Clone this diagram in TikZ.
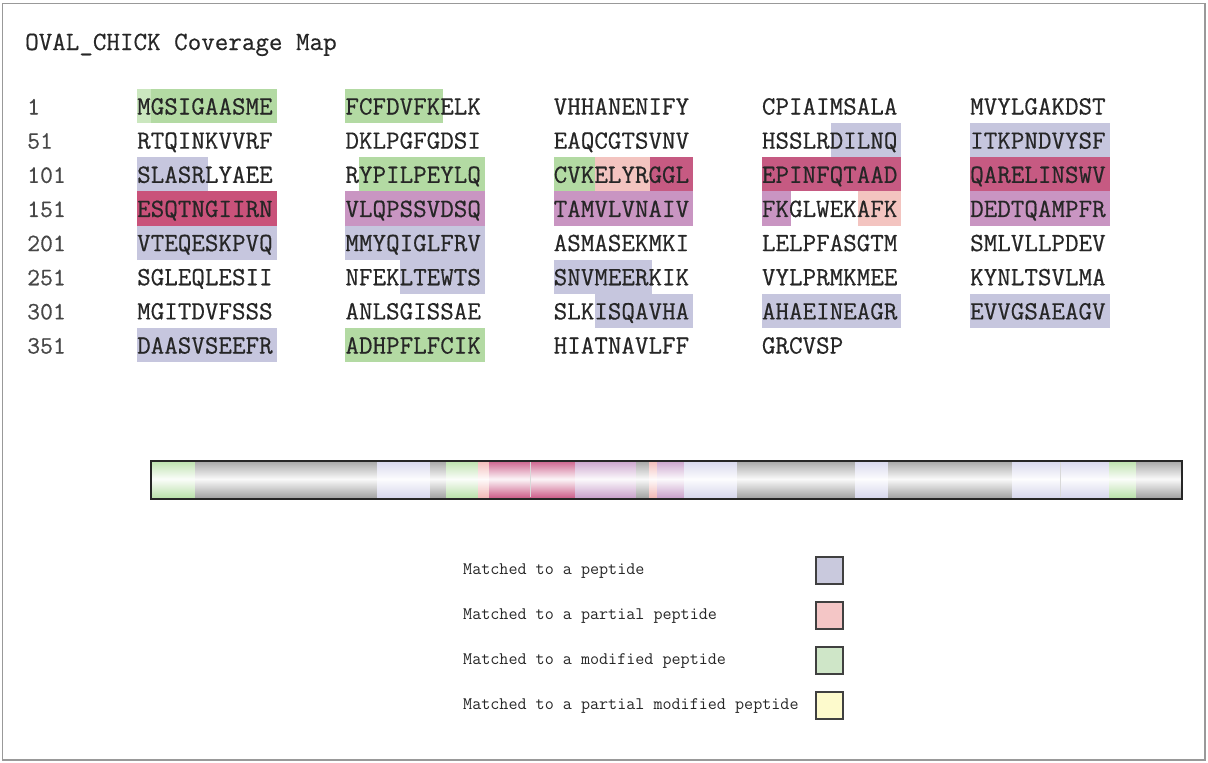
\documentclass[tikz,border=0pt]{standalone}
\usepackage{fontspec}
\newfontfamily\cour[FakeBold=0.5]{Latin Modern Mono}
\newfontfamily\courl{Latin Modern Mono}
\definecolor{lav}{HTML}{C6C6DE}
\definecolor{pinkp}{HTML}{F3C4C0}
\definecolor{grn}{HTML}{B3DAA3}
\definecolor{lgrn}{HTML}{CBE7BF}
\definecolor{mag}{HTML}{C65A82}
\definecolor{crim}{HTML}{C9527A}
\definecolor{mauve}{HTML}{C995C2}
\definecolor{txt}{HTML}{262626}
\definecolor{lglav}{HTML}{C9C9DD}
\definecolor{lgpink}{HTML}{F4C6C6}
\definecolor{lggrn}{HTML}{CFE6C8}
\definecolor{lgyel}{HTML}{FDFACC}
\definecolor{bgray}{HTML}{A2A2A2}
\definecolor{blav}{HTML}{D6D6EC}
\definecolor{bgrn}{HTML}{B9E0A9}
\definecolor{bpink}{HTML}{F2B8B6}
\definecolor{bmag}{HTML}{CC5C88}
\definecolor{bmauve}{HTML}{C9A0CB}
\newcommand\hl[5]{\fill[#1] ({137+208.25*(#3-1)+(#4-1)*13.8},{89+34.15*#2}) rectangle ({137+208.25*(#3-1)+#5*13.8+1.5},{123.15+34.15*#2});}
\newcommand\seg[3]{\shade[top color=#1,bottom color=#1,middle color=white!94!#1] (#2,460) rectangle (#3,498);}
\tikzset{
  seqtxt/.style={anchor=base west,inner sep=0pt,font=\cour\fontsize{26.3}{26.3}\selectfont,text=txt},
  numtxt/.style={anchor=base west,inner sep=0pt,font=\cour\fontsize{25}{25}\selectfont,text=txt!85},
  legtxt/.style={anchor=base west,inner sep=0pt,font=\courl\fontsize{17.6}{17.6}\selectfont,text=txt},
  legbox/.style={draw=black!75,line width=1.1pt,minimum width=27pt,minimum height=27pt,inner sep=0pt}
}
\begin{document}
\begin{tikzpicture}[x=1pt,y=-1pt]
\useasboundingbox (0,0) rectangle (1208,763);
\draw[black!40,line width=1.5pt] (2.5,3.5) rectangle (1205,760);
\node[seqtxt] (title) at (25,50) {OVAL\_CHICK Coverage Map};
% highlights: row, column, from, to
\hl{lgrn}{0}{1}{1}{1}
\hl{grn}{0}{1}{2}{10}
\hl{grn}{0}{2}{1}{7}
\hl{lav}{1}{4}{6}{10}
\hl{lav}{1}{5}{1}{10}
\hl{lav}{2}{1}{1}{5}
\hl{grn}{2}{2}{2}{10}
\hl{grn}{2}{3}{1}{3}
\hl{pinkp}{2}{3}{4}{7}
\hl{mag}{2}{3}{8}{10}
\hl{mag}{2}{4}{1}{10}
\hl{mag}{2}{5}{1}{10}
\hl{crim}{3}{1}{1}{10}
\hl{mauve}{3}{2}{1}{10}
\hl{mauve}{3}{3}{1}{10}
\hl{mauve}{3}{4}{1}{2}
\hl{pinkp}{3}{4}{8}{10}
\hl{mauve}{3}{5}{1}{10}
\hl{lav}{4}{1}{1}{10}
\hl{lav}{4}{2}{1}{10}
\hl{lav}{5}{2}{5}{10}
\hl{lav}{5}{3}{1}{7}
\hl{lav}{6}{3}{4}{10}
\hl{lav}{6}{4}{1}{10}
\hl{lav}{6}{5}{1}{10}
\hl{lav}{7}{1}{1}{10}
\hl{grn}{7}{2}{1}{10}
% sequence text
\foreach \r/\n/\a/\b/\c/\d/\e in {
  0/1/MGSIGAASME/FCFDVFKELK/VHHANENIFY/CPIAIMSALA/MVYLGAKDST,
  1/51/RTQINKVVRF/DKLPGFGDSI/EAQCGTSVNV/HSSLRDILNQ/ITKPNDVYSF,
  2/101/SLASRLYAEE/RYPILPEYLQ/CVKELYRGGL/EPINFQTAAD/QARELINSWV,
  3/151/ESQTNGIIRN/VLQPSSVDSQ/TAMVLVNAIV/FKGLWEKAFK/DEDTQAMPFR,
  4/201/VTEQESKPVQ/MMYQIGLFRV/ASMASEKMKI/LELPFASGTM/SMLVLLPDEV,
  5/251/SGLEQLESII/NFEKLTEWTS/SNVMEERKIK/VYLPRMKMEE/KYNLTSVLMA,
  6/301/MGITDVFSSS/ANLSGISSAE/SLKISQAVHA/AHAEINEAGR/EVVGSAEAGV}{
  \node[numtxt] (n\r) at (27,{114.5+34.15*\r}) {\n};
  \node[seqtxt] (s\r-1) at (137,{114.5+34.15*\r}) {\a};
  \node[seqtxt] (s\r-2) at (345.25,{114.5+34.15*\r}) {\b};
  \node[seqtxt] (s\r-3) at (553.5,{114.5+34.15*\r}) {\c};
  \node[seqtxt] (s\r-4) at (761.75,{114.5+34.15*\r}) {\d};
  \node[seqtxt] (s\r-5) at (970,{114.5+34.15*\r}) {\e};
}
\node[numtxt] (n7) at (27,{114.5+34.15*7}) {351};
\node[seqtxt] (s7-1) at (137,{114.5+34.15*7}) {DAASVSEEFR};
\node[seqtxt] (s7-2) at (345.25,{114.5+34.15*7}) {ADHPFLFCIK};
\node[seqtxt] (s7-3) at (553.5,{114.5+34.15*7}) {HIATNAVLFF};
\node[seqtxt] (s7-4) at (761.75,{114.5+34.15*7}) {GRCVSP};
% coverage bar
\seg{bgrn}{150}{195}
\seg{bgray}{195}{377}
\seg{blav}{377}{430}
\seg{bgray}{430}{446}
\seg{bgrn}{446}{478}
\seg{bpink}{478}{489}
\seg{bmag}{489}{530}
\seg{bmag}{530}{575}
\seg{bmauve}{575}{636}
\seg{bgray}{636}{649}
\seg{bpink}{649}{657}
\seg{bmauve}{657}{684}
\seg{blav}{684}{737}
\seg{bgray}{737}{855}
\seg{blav}{855}{888}
\seg{bgray}{888}{1012}
\seg{blav}{1012}{1060}
\seg{blav}{1060}{1109}
\seg{bgrn}{1109}{1136}
\seg{bgray}{1136}{1181}
\foreach \x in {530,1060}{\draw[white!85!black,line width=0.8pt] (\x,461) -- (\x,497);}
\node[draw=black!85,line width=2pt,minimum width=1031pt,minimum height=38pt,inner sep=0pt,anchor=north west] (bar) at (150,460) {};
% legend
\node[legtxt] (l1) at (463,574.5) {Matched to a peptide};
\node[legtxt] (l2) at (463,619.5) {Matched to a partial peptide};
\node[legtxt] (l3) at (463,664.5) {Matched to a modified peptide};
\node[legtxt] (l4) at (463,709.5) {Matched to a partial modified peptide};
\node[legbox,fill=lglav] (b1) at (829.5,570.5) {};
\node[legbox,fill=lgpink] (b2) at (829.5,615.5) {};
\node[legbox,fill=lggrn] (b3) at (829.5,660.5) {};
\node[legbox,fill=lgyel] (b4) at (829.5,705.5) {};
\end{tikzpicture}
\end{document}
